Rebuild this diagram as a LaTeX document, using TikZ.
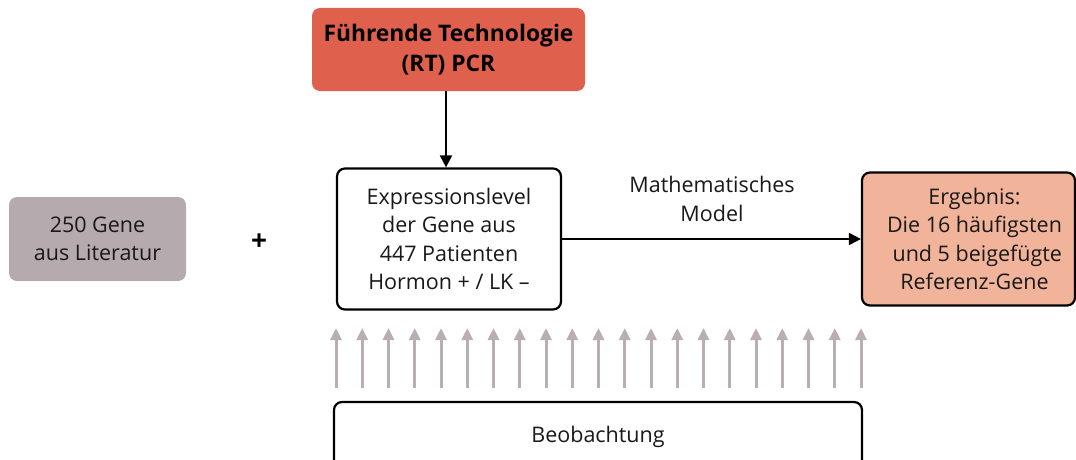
\documentclass[tikz,border=0pt]{standalone}
\usepackage{fontspec}
\setmainfont{Open Sans}
\usetikzlibrary{arrows.meta}
\definecolor{topred}{HTML}{DE604D}
\definecolor{greybox}{HTML}{B5AAAD}
\definecolor{ergfill}{HTML}{F1B49B}
\definecolor{arrgrey}{HTML}{B9AEB1}
\begin{document}
\begin{tikzpicture}[x=1pt,y=-1pt,
  txt/.style={font=\fontsize{21.5}{28.5}\selectfont, align=center, text=black!90},
  whitebox/.style={draw=black, line width=2.2pt, rounded corners=8pt, fill=white, inner sep=0pt, txt},
  conn/.style={draw=black, line width=2pt, -{Triangle[length=12pt,width=12pt]}},
  uparrow/.style={draw=arrgrey, line width=3pt, -{Triangle[length=12pt,width=11pt]}}]
\useasboundingbox (0,0) rectangle (1076,460);

\node[fill=topred, rounded corners=8pt, minimum width=273, minimum height=83, inner sep=0pt,
      font=\bfseries\fontsize{22.8}{30}\selectfont, align=center] (pcr) at (448.5,49.5)
      {Führende Technologie\\(RT) PCR};

\node[whitebox, minimum width=224, minimum height=141] (expr) at (449,239)
      {Expressionslevel\\der Gene aus\\447 Patienten\\Hormon + / LK –};

\node[fill=greybox, rounded corners=8pt, minimum width=177, minimum height=84, inner sep=0pt, txt] (lit) at (97.5,239)
      {250 Gene\\aus Literatur};

\node[font=\bfseries\fontsize{28}{30}\selectfont] (plus) at (259,242) {+};

\node[whitebox, fill=ergfill, minimum width=213, minimum height=133] (erg) at (968.5,239)
      {\hspace*{12pt}Ergebnis:\\\hspace*{12pt}Die 16 häufigsten\\\hspace*{12pt} und 5 beigefügte\\\hspace*{12pt}Referenz-Gene};

\node[txt] (ml) at (712,199) {Mathematisches\\Model};

\node[whitebox, minimum width=528, minimum height=70] (beo) at (598,437) {Beobachtung};

\draw[conn] (pcr.south -| 446,0) -- (expr.north -| 446,0);
\draw[conn] (expr.east) -- (erg.west);

\foreach \i in {0,...,20} {
  \coordinate (ua\i) at ({336+\i*26.25},388);
  \coordinate (ub\i) at ({336+\i*26.25},328);
  \draw[uparrow] (ua\i) -- (ub\i);
}
\end{tikzpicture}
\end{document}
